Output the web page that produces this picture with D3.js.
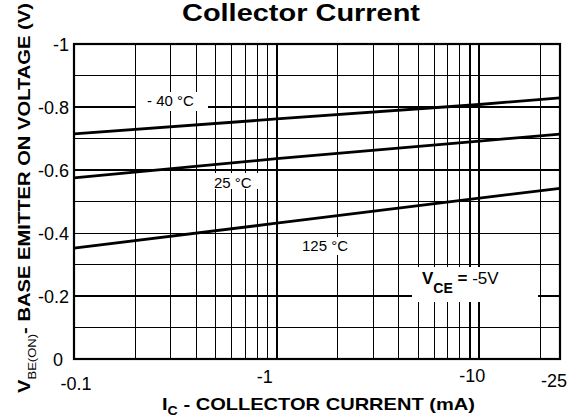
<!DOCTYPE html>
<meta charset="utf-8">
<head>
	<title>VBE(ON) vs Collector Current</title>
	<script type="text/javascript" src="https://d3js.org/d3.v7.min.js"></script>
	<style>
		body { margin: 0; background: #fff; }
		text { font-family: "Liberation Sans", Arial, sans-serif; fill: #000; }
		.bold { font-weight: bold; }
	</style>
</head>
<body>
	<div id="chart"></div>
	<script>

		// data (collector current in mA as magnitude, voltage in V)
		const currents = [0.1, 1, 10, 25];
		const vbeMinus40 = [-0.715, -0.762, -0.808, -0.829];
		const vbe25 = [-0.575, -0.636, -0.692, -0.714];
		const vbe125 = [-0.352, -0.431, -0.511, -0.542];
		const seriesNames = ["- 40 °C", "25 °C", "125 °C"];

		const xTicks = [0.1, 1, 10, 25];
		const xTickLabels = ["-0.1", "-1", "-10", "-25"];
		const yTicks = [0, -0.2, -0.4, -0.6, -0.8, -1];
		const yTickLabels = ["0", "-0.2", "-0.4", "-0.6", "-0.8", "-1"];
		const gridX = [0.2, 0.3, 0.4, 0.5, 0.6, 0.7, 0.8, 0.9, 1, 2, 3, 4, 5, 6, 7, 8, 9, 10, 20];
		const gridY = [-0.1, -0.2, -0.3, -0.4, -0.5, -0.6, -0.7, -0.8, -0.9];

		// styling
		const width = 578, height = 419;
		const plot = {left: 74, right: 560, top: 44, bottom: 359};
		const heavyX = {1: 2, 10: 2, 0.5: 1.5, 3: 1.5, 9: 1.5};
		const heavyY = {"-0.2": 2, "-0.6": 2, "-0.8": 2};
		const xLabelNudge = [2, -12, -7, -6];
		const xLabelDrop = [31, 24, 23, 28];

		const svg = d3.select("#chart")
			.append("svg")
			.attr("width", width)
			.attr("height", height);

		const x = d3.scaleLog().domain([0.1, 25]).range([plot.left, plot.right]);
		const y = d3.scaleLinear().domain([0, -1]).range([plot.bottom, plot.top]);

		// grid
		const grid = svg.append("g").attr("shape-rendering", "crispEdges");
		grid.selectAll(".gx")
			.data(gridX)
			.enter().append("line")
			.attr("x1", d => x(d)).attr("x2", d => x(d))
			.attr("y1", plot.top).attr("y2", plot.bottom)
			.attr("stroke", "#000")
			.attr("stroke-width", d => heavyX[d] || 1);
		grid.selectAll(".gy")
			.data(gridY)
			.enter().append("line")
			.attr("x1", plot.left).attr("x2", plot.right)
			.attr("y1", d => y(d)).attr("y2", d => y(d))
			.attr("stroke", "#000")
			.attr("stroke-width", d => heavyY[d] || 1);

		// frame
		svg.append("rect")
			.attr("x", plot.left).attr("y", plot.top)
			.attr("width", plot.right - plot.left)
			.attr("height", plot.bottom - plot.top)
			.attr("fill", "none")
			.attr("stroke", "#000")
			.attr("stroke-width", 2.2);

		// curves
		const line = d3.line()
			.x(d => x(d[0]))
			.y(d => y(d[1]));
		const series = [vbeMinus40, vbe25, vbe125];
		svg.append("g").selectAll("path")
			.data(series)
			.enter().append("path")
			.attr("d", s => line(currents.map((c, i) => [c, s[i]])))
			.attr("fill", "none")
			.attr("stroke", "#000")
			.attr("stroke-width", 2.8);

		// curve labels with white boxes over the grid
		const labelSpots = [
			{box: [136, 92, 72, 19], tx: 147, ty: 106},
			{box: [212, 173, 48, 16], tx: 214, ty: 188},
			{box: [298, 237, 55, 18], tx: 302, ty: 251}
		];
		labelSpots.forEach((p, i) => {
			svg.append("rect")
				.attr("x", p.box[0]).attr("y", p.box[1])
				.attr("width", p.box[2]).attr("height", p.box[3])
				.attr("fill", "#fff");
			svg.append("text")
				.attr("x", p.tx).attr("y", p.ty)
				.attr("font-size", 15)
				.text(seriesNames[i]);
		});

		// VCE note
		svg.append("rect")
			.attr("x", 412).attr("y", 267)
			.attr("width", 126).attr("height", 35)
			.attr("fill", "#fff");
		const vce = svg.append("text")
			.attr("x", 422).attr("y", 284)
			.attr("font-size", 17);
		vce.append("tspan").attr("class", "bold").text("V");
		vce.append("tspan").attr("class", "bold").attr("font-size", 14).attr("dy", 9).text("CE");
		vce.append("tspan").attr("class", "bold").attr("dy", -9).text(" = ");
		vce.append("tspan").text("-5V");

		// tick labels
		svg.append("g").selectAll("text")
			.data(xTicks)
			.enter().append("text")
			.attr("x", (d, i) => x(d) + xLabelNudge[i])
			.attr("y", (d, i) => plot.bottom + xLabelDrop[i])
			.attr("text-anchor", "middle")
			.attr("font-size", 18)
			.text((d, i) => xTickLabels[i]);

		svg.append("g").selectAll("text")
			.data(yTicks)
			.enter().append("text")
			.attr("x", (d, i) => i === 0 ? 63 : 69)
			.attr("y", d => y(d) + 7)
			.attr("text-anchor", "end")
			.attr("font-size", 18)
			.text((d, i) => yTickLabels[i]);

		// title
		svg.append("text")
			.attr("class", "bold")
			.attr("x", 182).attr("y", 21)
			.attr("font-size", 24)
			.attr("textLength", 238)
			.attr("lengthAdjust", "spacingAndGlyphs")
			.text("Collector Current");

		// x axis title
		const xt = svg.append("text")
			.attr("class", "bold")
			.attr("x", 162).attr("y", 410)
			.attr("font-size", 17)
			.attr("textLength", 313)
			.attr("lengthAdjust", "spacingAndGlyphs");
		xt.append("tspan").text("I");
		xt.append("tspan").attr("font-size", 12).attr("dy", 5).text("C");
		xt.append("tspan").attr("dy", -5).text(" - COLLECTOR CURRENT  (mA)");

		// y axis title
		const yt = svg.append("text")
			.attr("class", "bold")
			.attr("transform", "translate(30,393) rotate(-90)")
			.attr("font-size", 17)
			.attr("textLength", 390)
			.attr("lengthAdjust", "spacingAndGlyphs");
		yt.append("tspan").text("V");
		yt.append("tspan").attr("font-size", 11).attr("font-weight", "normal").attr("dy", 6).text("BE(ON)");
		yt.append("tspan").attr("dy", -6).text("- BASE EMITTER ON VOLTAGE (V)");

	</script>
</body>
</html>
